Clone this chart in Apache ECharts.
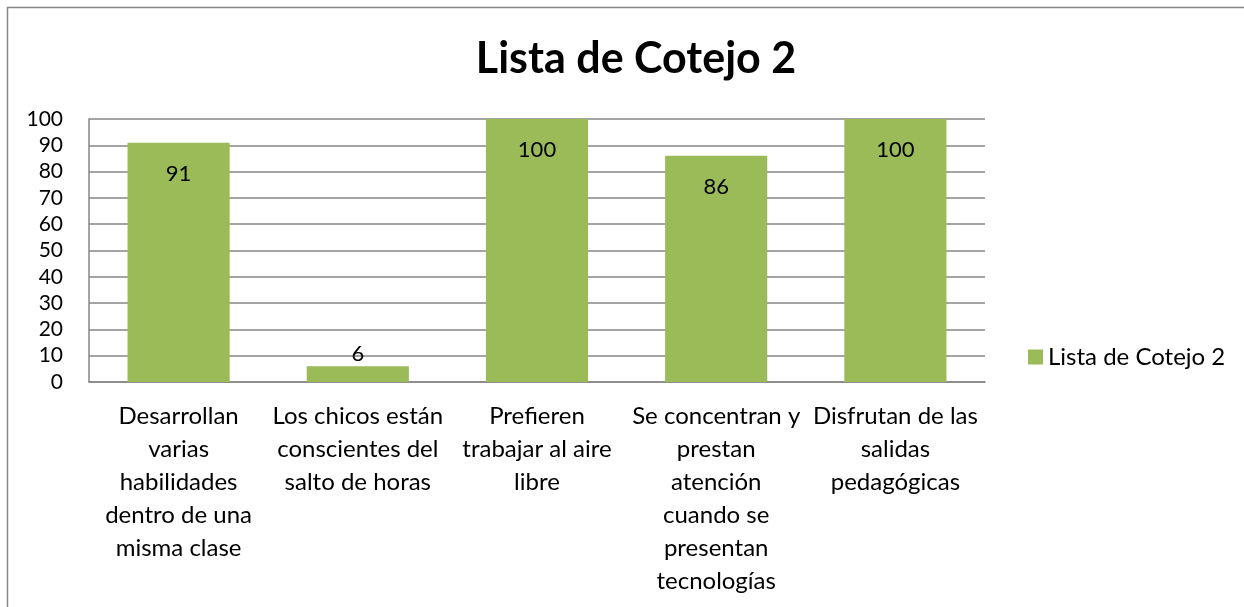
<!DOCTYPE html>
<html>
<head>
<meta charset="utf-8">
<style>
  html, body { margin: 0; padding: 0; background: #fff; }
  #chart { width: 1244px; height: 607px; }
</style>
<script src="https://cdn.jsdelivr.net/npm/echarts@6/dist/echarts.min.js"></script>
</head>
<body>
<div id="chart"></div>
<script>
/* ---------- data ---------- */
const titleText = "Lista de Cotejo 2";
const seriesName = "Lista de Cotejo 2";
const categories = [
  "Desarrollan\nvarias\nhabilidades\ndentro de una\nmisma clase",
  "Los chicos están\nconscientes del\nsalto de horas",
  "Prefieren\ntrabajar al aire\nlibre",
  "Se concentran y\nprestan\natención\ncuando se\npresentan\ntecnologías",
  "Disfrutan de las\nsalidas\npedagógicas",
];
const values = [91, 6, 100, 86, 100];

/* ---------- chart ---------- */
const FONT = "Lato, 'Open Sans', sans-serif";
const GRID_COLOR = "#868686";

const chart = echarts.init(document.getElementById("chart"));

const option = {
  animation: false,
  graphic: [
    {
      type: "rect",
      shape: { x: 7.5, y: 7.5, width: 1300, height: 700 },
      style: { fill: "none", stroke: GRID_COLOR, lineWidth: 1.5 },
      silent: true,
    },
  ],
  title: {
    text: titleText,
    left: 631,
    textAlign: "center",
    top: 33,
    textStyle: { fontFamily: FONT, fontSize: 43, fontWeight: "bold", color: "#000" },
  },
  legend: {
    data: [seriesName],
    left: 1023,
    top: 340,
    itemWidth: 15,
    itemHeight: 15,
    itemGap: 6,
    icon: "rect",
    textStyle: { fontFamily: FONT, fontSize: 24, color: "#000" },
  },
  grid: { left: 89, right: 259, top: 119, bottom: 225 },
  xAxis: {
    type: "category",
    data: categories,
    axisLine: { show: true, lineStyle: { color: GRID_COLOR, width: 1.5 } },
    axisTick: { show: false },
    axisLabel: {
      interval: 0,
      margin: 18,
      fontFamily: FONT,
      fontSize: 24,
      lineHeight: 33,
      color: "#000",
      align: "center",
    },
  },
  yAxis: {
    type: "value",
    min: 0,
    max: 100,
    interval: 10,
    axisLine: { show: true, lineStyle: { color: GRID_COLOR, width: 1.5 } },
    axisTick: { show: false },
    splitLine: { lineStyle: { color: GRID_COLOR, width: 1.5 } },
    axisLabel: { margin: 26, fontFamily: FONT, fontSize: 21, color: "#000" },
  },
  series: [
    {
      name: seriesName,
      type: "bar",
      barCategoryGap: "43%",
      itemStyle: { color: "#9BBB59" },
      data: values.map((v) => ({
        value: v,
        label: v < 15 ? { position: "top", distance: 1 } : { position: "insideTop", distance: 20 },
      })),
      label: {
        show: true,
        fontFamily: FONT,
        fontSize: 22,
        color: "#000",
      },
    },
  ],
};

chart.setOption(option);
</script>
</body>
</html>
